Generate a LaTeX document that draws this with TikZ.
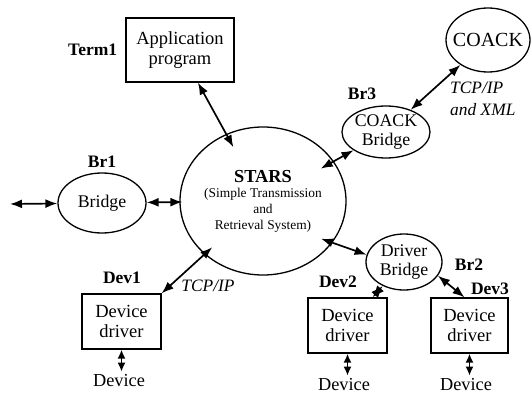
\documentclass[tikz,border=0pt]{standalone}
\usepackage{fontspec}
\setmainfont{Liberation Serif}
\usepackage{tikz}
\usetikzlibrary{positioning,shapes.geometric,arrows.meta}

\begin{document}
\begin{tikzpicture}[x=1pt, y=-1pt,
    box/.style={draw, line width=1.3pt, inner sep=0pt, align=center,
      font=\fontsize{18.5}{20}\selectfont},
    oval/.style={draw, ellipse, line width=1.3pt, inner xsep=-6pt, inner ysep=-3pt,
      align=center, font=\fontsize{17.8}{19.5}\selectfont},
    tag/.style={inner sep=0pt, font=\fontsize{17.5}{19}\selectfont\bfseries},
    proto/.style={inner sep=0pt, align=left, font=\fontsize{17.4}{21.5}\selectfont\itshape},
    dev/.style={inner sep=0pt, font=\fontsize{18.3}{20}\selectfont},
    link/.style={line width=1.7pt, {Latex[length=12pt,width=9pt]}-{Latex[length=12pt,width=9pt]}},
    stub/.style={line width=1.7pt, {Latex[length=9pt,width=8pt]}-{Latex[length=9pt,width=8pt]}}]
  \useasboundingbox (0,0) rectangle (531,394);

  % Central system
  \node[oval, minimum width=166pt, minimum height=148pt,
    font=\fontsize{13.4}{16}\selectfont] (stars) at (263,201)
    {{\fontsize{18.3}{18}\selectfont\bfseries STARS}\\[-1pt]
     (Simple Transmission\\and\\Retrieval System)};

  % Application program
  \node[box, minimum width=108pt, minimum height=64pt] (app) at (180,50) {Application\\program};
  \node[tag, left=8pt of app] (term1) {Term1};
  \draw[link, shorten >=-15pt] (app) -- (stars);

  % Plain bridge
  \node[oval, minimum width=88pt, minimum height=60pt] (br1) at (102,203) {Bridge};
  \node[tag, above=5pt of br1] (br1tag) {Br1};
  \coordinate (ext) at (10,204);
  \draw[link] (ext) -- (br1);
  \draw[link, shorten >=-3pt] (br1) -- (stars);

  % COACK side
  \node[oval, minimum width=84pt, minimum height=64pt,
    font=\fontsize{20}{20}\selectfont] (coack) at (488,40) {COACK};
  \node[oval, minimum width=88pt, minimum height=52pt] (cbr) at (386,132) {COACK\\Bridge};
  \node[tag] (br3tag) at (362,94) {Br3};
  \node[proto, anchor=west] (xml) at (450,99) {TCP/IP\\and XML};
  \draw[link] (cbr) -- (coack);
  \draw[link, shorten <=-15pt] (stars) -- (cbr);

  % Driver bridge
  \node[oval, minimum width=76pt, minimum height=56pt] (drv) at (404,262) {Driver\\Bridge};
  \node[tag] (br2tag) at (469,265) {Br2};
  \draw[link, shorten <=-12pt] (stars.-31) -- (drv.169);

  % Device drivers
  \node[box, minimum width=79pt, minimum height=55pt] (dev1) at (121.5,321.5) {Device\\driver};
  \node[box, minimum width=79pt, minimum height=55pt] (dev2) at (347.5,325.5) {Device\\driver};
  \node[box, minimum width=77pt, minimum height=55pt] (dev3) at (469.5,325.5) {Device\\driver};
  \node[tag] (dev1tag) at (122,278) {Dev1};
  \node[tag] (dev2tag) at (338,282) {Dev2};
  \node[tag] (dev3tag) at (490,289) {Dev3};
  \node[proto] (tcp) at (208,286) {TCP/IP};
  \draw[link, shorten >=-10.5pt] (dev1.north east) -- (stars);
  \draw[link] (drv) -- (dev2);
  \draw[link] (drv.-22) -- ([xshift=-5pt]dev3.north);

  % Devices
  \node[dev] (d1) at (119,381) {Device};
  \node[dev] (d2) at (344,385) {Device};
  \node[dev] (d3) at (466,385) {Device};
  \draw[stub, shorten >=3pt] (dev1.south) -- (dev1.south |- d1.north);
  \draw[stub, shorten >=3pt] (dev2.south) -- (dev2.south |- d2.north);
  \draw[stub, shorten >=3pt] (dev3.south) -- (dev3.south |- d3.north);
\end{tikzpicture}
\end{document}
